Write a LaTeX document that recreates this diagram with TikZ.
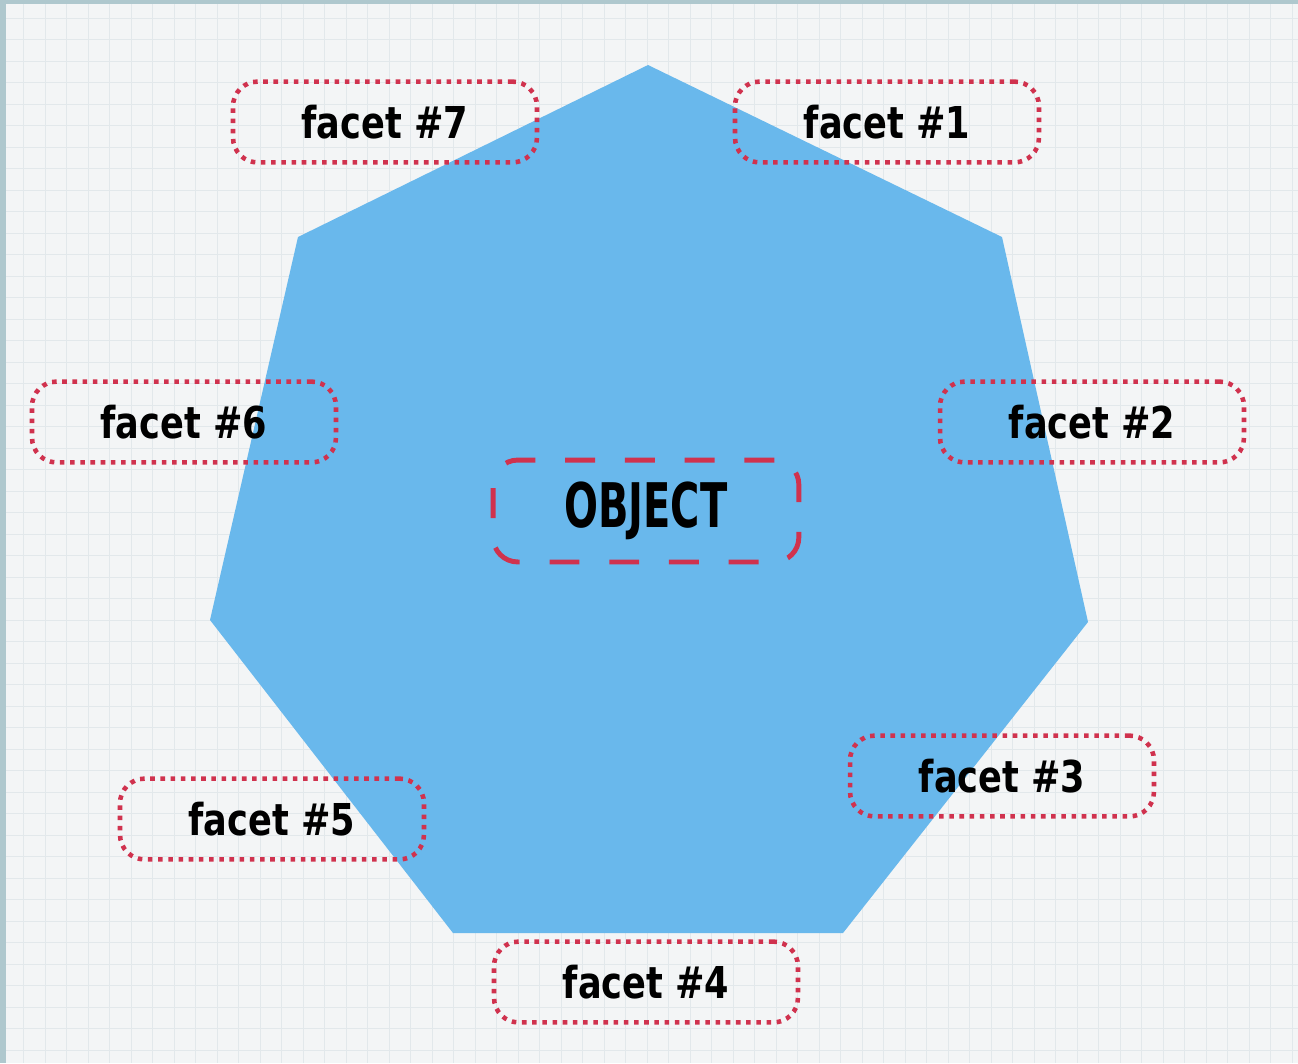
\documentclass[tikz,border=0pt]{standalone}
\usepackage{fontspec}
\newfontfamily\facetfont[FakeStretch=0.8]{DejaVu Sans}
\newfontfamily\objfont[FakeStretch=0.65]{DejaVu Sans}
\usepackage{xcolor}
\usetikzlibrary{positioning}

\definecolor{paper}{HTML}{F3F5F6}
\definecolor{gridline}{HTML}{E2E8EB}
\definecolor{rim}{HTML}{AFC8CE}
\definecolor{facetblue}{HTML}{69B8EC}
\definecolor{tagred}{HTML}{D0324E}

\begin{document}
\begin{tikzpicture}[
        x=0.02cm, y=-0.02cm,
        facet/.style={draw=tagred, line width=2.6pt, dash pattern=on 2.6pt off 3.2pt, rounded corners=14pt, minimum width=173pt, minimum height=46pt, inner sep=0pt, font=\facetfont\bfseries\fontsize{25}{25}\selectfont},
        object/.style={draw=tagred, line width=2.8pt, dash pattern=on 17pt off 17pt, rounded corners=14pt, minimum width=174pt, minimum height=58pt, inner sep=0pt, font=\objfont\bfseries\fontsize{35}{35}\selectfont}
    ]
        \useasboundingbox (0,0) rectangle (1298,1063);
        % paper with grid
        \fill[paper] (0,0) rectangle (1298,1063);
        \foreach \gx in {23.5,45,...,1298} {
            \draw[gridline, line width=0.5pt] (\gx,0) -- (\gx,1063);
        }
        \foreach \gy in {18,39.5,...,1063} {
            \draw[gridline, line width=0.5pt] (0,\gy) -- (1298,\gy);
        }
        \fill[rim] (0,0) rectangle (6,1063);
        \fill[rim] (0,0) rectangle (1298,4);

        % the object as a heptagon
        \coordinate (v1) at (648,65);
        \coordinate (v2) at (1002,237);
        \coordinate (v3) at (1088,622);
        \coordinate (v4) at (843,933);
        \coordinate (v5) at (453,933);
        \coordinate (v6) at (210,620);
        \coordinate (v7) at (298,237);
        \fill[facetblue] (v1) -- (v2) -- (v3) -- (v4) -- (v5) -- (v6) -- (v7) -- cycle;

        \node[object] (obj) at (646,511) {OBJECT};
        \node[facet] (f1) at (887,122) {facet \#1};
        \node[facet] (f2) at (1092,422) {facet \#2};
        \node[facet] (f3) at (1002,776) {facet \#3};
        \node[facet] (f4) at (646,982) {facet \#4};
        \node[facet] (f5) at (272,819) {facet \#5};
        \node[facet] (f6) at (184,422) {facet \#6};
        \node[facet] (f7) at (385,122) {facet \#7};
    \end{tikzpicture}
\end{document}
